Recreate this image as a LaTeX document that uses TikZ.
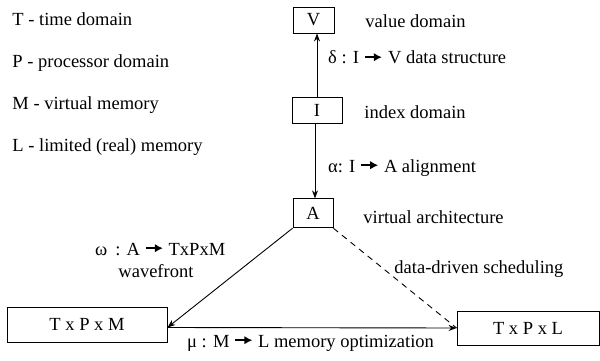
\documentclass[tikz,border=0pt]{standalone}
\usepackage{fontspec}
\setmainfont{Liberation Serif}
\usetikzlibrary{arrows.meta, positioning}

\newcommand{\maparrow}{\tikz[baseline=-0.8ex, x=1pt, y=1pt]\draw[line width=2.4pt, -{Latex[length=8pt,width=8.5pt]}] (0pt,0pt) -- (17pt,0pt);}

\begin{document}
\begin{tikzpicture}[x=1pt, y=-1pt, line width=0.9pt, >={Stealth[length=8pt,width=6pt]},
    every node/.style={font=\fontsize{18.5}{22}\selectfont},
    box/.style={draw, inner sep=0pt},
    lbl/.style={anchor=base west, inner sep=0pt}]
    \useasboundingbox (0,0) rectangle (600,361);

    % Domains
    \node (tdom) [lbl] at (12,26) {T - time domain};
    \node (pdom) [lbl] at (12,68) {P - processor domain};
    \node (mdom) [lbl] at (12,110) {M - virtual memory};
    \node (ldom) [lbl] at (12,151) {L - limited (real) memory};

    % Boxes
    \node (V) [box, minimum width=41pt, minimum height=26pt] at (313.5,20) {V};
    \node (I) [box, minimum width=50pt, minimum height=26pt, below=64pt of V, xshift=3.5pt] {I};
    \node (A) [box, minimum width=40pt, minimum height=29pt, below=74pt of I, xshift=-4pt] {A};
    \node (TM) [box, minimum width=160pt, minimum height=35pt] at (87,324.5) {T x P x M};
    \node (TL) [box, minimum width=142pt, minimum height=34pt] at (528,328) {T x P x L};

    % Labels
    \node (vlab) [lbl] at (365,28) {value domain};
    \node (dlab) [lbl] at (328,64) {δ : I \maparrow\hspace{5pt}V data structure};
    \node (ilab) [lbl] at (364,118) {index domain};
    \node (alab) [lbl] at (328,172) {α: I \maparrow\ A alignment};
    \node (arch) [lbl] at (363,223) {virtual architecture};
    \node (wlab) [lbl] at (95,255) {ω\hspace{8pt}: A \maparrow\ TxPxM};
    \node (wave) [lbl] at (118,277) {wavefront};
    \node (sched) [lbl] at (394,273) {data-driven scheduling};
    \node (mlab) [lbl] at (187,347) {μ : M \maparrow\ L memory optimization};

    % Maps
    \draw [->] (I.north) -- (I.north |- V.south);
    \draw [->] ([xshift=-2pt]I.south) -- ([xshift=-2pt]I.south |- A.north);
    \draw [->] (A.south west) -- ([yshift=-3pt]TM.east);
    \draw [->] ([yshift=-3pt]TM.east) -- (TL.west);
    \draw [dash pattern=on 6pt off 5pt] (A.south east) -- (TL.west);
\end{tikzpicture}
\end{document}
